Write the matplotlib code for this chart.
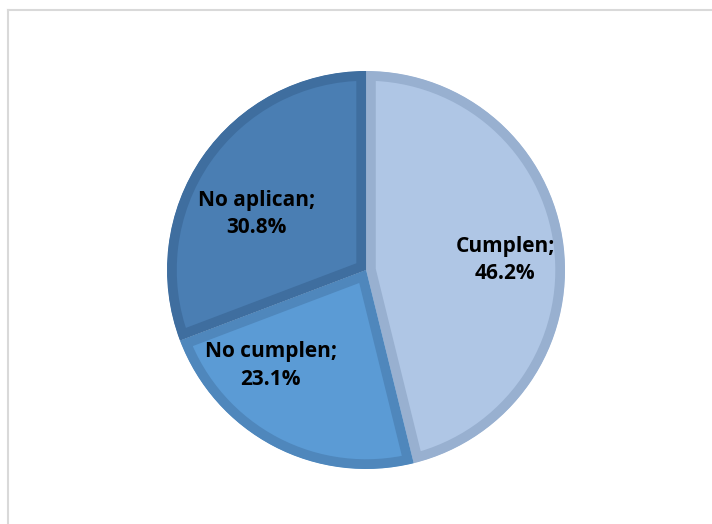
import matplotlib
matplotlib.use("Agg")
import matplotlib.pyplot as plt
from matplotlib.lines import Line2D

# Data
categories = ["Cumplen", "No cumplen", "No aplican"]
percents = [46.2, 23.1, 30.8]
fill_colors = ["#AFC6E5", "#5B9BD5", "#4A7EB3"]
edge_colors = ["#98B0D0", "#4F87BC", "#3F6E9F"]

# label positions (data coords, pie radius 1)
label_pos = [(0.70, 0.05), (-0.48, -0.48), (-0.55, 0.28)]

fig = plt.figure(figsize=(7.12, 5.24), dpi=100)
ax = fig.add_axes([0.2346, 0.105, 0.559, 0.7595])

wedges, _ = ax.pie(percents, colors=fill_colors, startangle=90, counterclock=False,
                   radius=1.0, wedgeprops=dict(linewidth=14, linestyle="solid"))
for w, ec in zip(wedges, edge_colors):
    w.set_edgecolor(ec)
    w.set_joinstyle("miter")
    w.set_clip_on(True)
    w.set_clip_path(w)

for cat, p, (x, y) in zip(categories, percents, label_pos):
    ax.text(x, y, f"{cat};\n{p:.1f}%", ha="center", va="center", fontsize=15,
            fontweight="bold", family="Open Sans", linespacing=1.4, color="#000000")

ax.set_xlim(-1, 1)
ax.set_ylim(-1, 1)
ax.set_aspect("equal")
ax.axis("off")

# chart frame (only top and left visible)
fig.add_artist(Line2D([7.5 / 712, 7.5 / 712], [0, 1 - 9.5 / 524], color="#D9D9D9", lw=1.5))
fig.add_artist(Line2D([7.5 / 712, 1], [1 - 9.5 / 524, 1 - 9.5 / 524], color="#D9D9D9", lw=1.5))

fig.savefig("out.png", dpi=100)
